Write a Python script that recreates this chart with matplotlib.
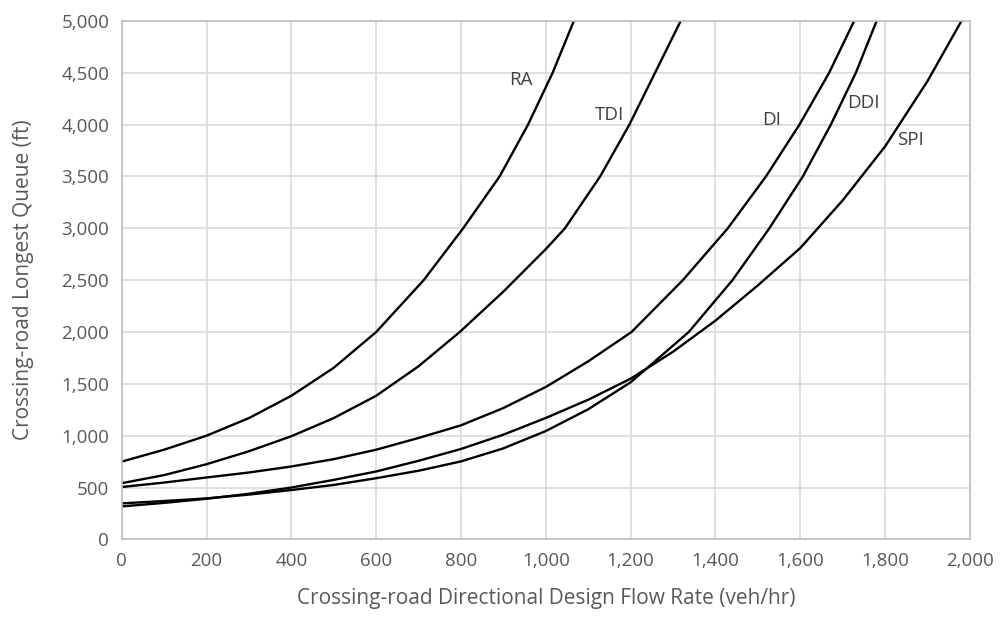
import numpy as np
import matplotlib
matplotlib.use("Agg")
import matplotlib.pyplot as plt

plt.rcParams['font.family'] = ['Open Sans', 'DejaVu Sans']

# flow rate (veh/hr) and longest queue (ft)
ra_x = [0, 100, 200, 300, 400, 500, 600, 712, 805, 891, 958, 1016, 1066]
ra_y = [750, 865, 1000, 1170, 1385, 1655, 2000, 2500, 3000, 3500, 4000, 4500, 5000]

tdi_x = [0, 100, 200, 300, 400, 500, 600, 700, 797, 900, 1000, 1045, 1128, 1197, 1318]
tdi_y = [542, 620, 725, 850, 995, 1170, 1385, 1670, 2000, 2390, 2800, 3000, 3500, 4000, 5000]

di_x = [0, 100, 200, 300, 400, 500, 600, 700, 800, 900, 1000, 1100, 1202,
        1323, 1429, 1519, 1598, 1668, 1727]
di_y = [505, 548, 597, 645, 703, 774, 865, 978, 1100, 1267, 1470, 1717, 2000,
        2500, 3000, 3500, 4000, 4500, 5000]

ddi_x = [0, 100, 200, 300, 400, 500, 600, 700, 800, 900, 1000, 1100, 1200,
         1337, 1440, 1527, 1606, 1672, 1731, 1780]
ddi_y = [347, 370, 395, 432, 476, 525, 590, 662, 752, 878, 1045, 1255, 1515,
         2000, 2500, 3000, 3500, 4000, 4500, 5000]

spi_x = [0, 100, 200, 300, 400, 500, 600, 700, 800, 900, 1000, 1100, 1200,
         1300, 1400, 1500, 1600, 1700, 1800, 1900, 1980]
spi_y = [318, 352, 392, 440, 500, 574, 655, 758, 872, 1010, 1171, 1347, 1550,
         1810, 2110, 2450, 2810, 3270, 3790, 4420, 5000]

labels = ["RA", "TDI", "DI", "DDI", "SPI"]
label_x = [940, 1149, 1533, 1749, 1859]
label_y = [4430, 4095, 4045, 4206, 3852]

x_ticks = np.arange(0, 2001, 200)
y_ticks = np.arange(0, 5001, 500)

fig = plt.figure(figsize=(10.02, 6.25), dpi=100)
ax = fig.add_axes([0.1215, 0.137, 0.8465, 0.8295])

curves = [(ra_x, ra_y), (tdi_x, tdi_y), (di_x, di_y), (ddi_x, ddi_y), (spi_x, spi_y)]
for (xs, ys), name, lx, ly in zip(curves, labels, label_x, label_y):
    ax.plot(xs, ys, color='black', lw=1.7, solid_joinstyle='round')
    ax.text(lx, ly, name, fontsize=13.5, color='#404040', ha='center', va='center')

ax.set_xlim(0, 2000)
ax.set_ylim(0, 5000)
ax.set_xticks(x_ticks)
ax.set_yticks(y_ticks)
ax.set_xticklabels([f"{v:,}" for v in x_ticks])
ax.set_yticklabels([f"{v:,}" for v in y_ticks])
ax.tick_params(length=0, labelsize=13.5, labelcolor='#595959', pad=9)
ax.grid(True, color='#d9d9d9', lw=1.2)
ax.set_axisbelow(True)
for s in ax.spines.values():
    s.set_color('#bfbfbf')
    s.set_linewidth(1.2)

ax.set_xlabel("Crossing-road Directional Design Flow Rate (veh/hr)", fontsize=15,
              color='#595959', labelpad=13)
ax.set_ylabel("Crossing-road Longest Queue (ft)", fontsize=15, color='#595959', labelpad=20)

fig.savefig("out.png", dpi=100)
